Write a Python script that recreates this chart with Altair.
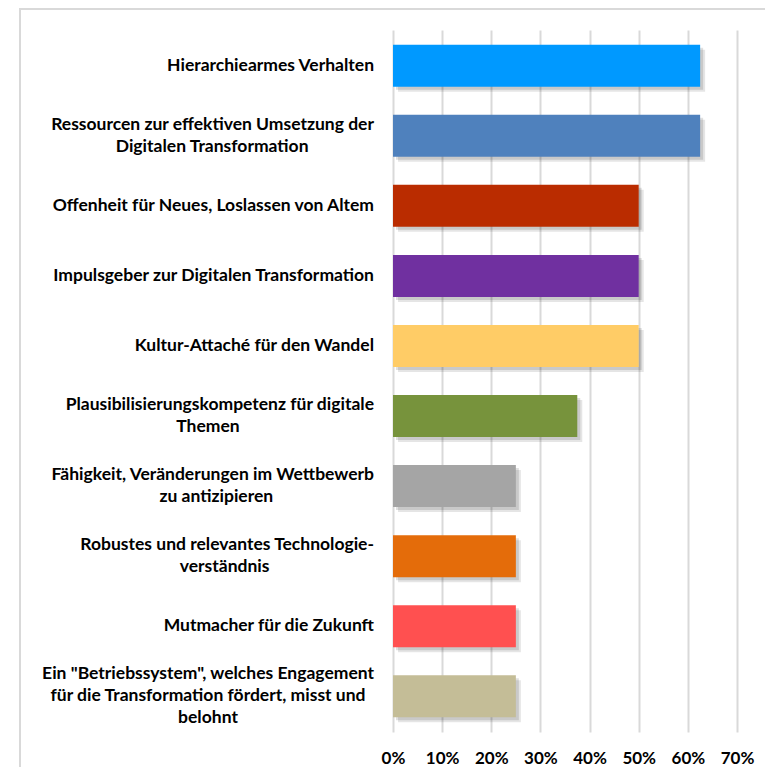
import altair as alt
import pandas as pd

categories = [
    "Hierarchiearmes Verhalten",
    "Ressourcen zur effektiven Umsetzung der Digitalen Transformation",
    "Offenheit für Neues, Loslassen von Altem",
    "Impulsgeber zur Digitalen Transformation",
    "Kultur-Attaché für den Wandel",
    "Plausibilisierungskompetenz für digitale Themen",
    "Fähigkeit, Veränderungen im Wettbewerb zu antizipieren",
    "Robustes und relevantes Technologieverständnis",
    "Mutmacher für die Zukunft",
    "Ein \"Betriebssystem\", welches Engagement für die Transformation fördert, misst und belohnt",
]
label_lines = [
    ["Hierarchiearmes Verhalten"],
    ["Ressourcen zur effektiven Umsetzung der", "Digitalen Transformation"],
    ["Offenheit für Neues, Loslassen von Altem"],
    ["Impulsgeber zur Digitalen Transformation"],
    ["Kultur-Attaché für den Wandel"],
    ["Plausibilisierungskompetenz für digitale", "Themen"],
    ["Fähigkeit, Veränderungen im Wettbewerb", "zu antizipieren"],
    ["Robustes und relevantes Technologie-", "verständnis"],
    ["Mutmacher für die Zukunft"],
    ["Ein \"Betriebssystem\", welches Engagement", "für die Transformation fördert, misst und", "belohnt"],
]
values = [0.625, 0.625, 0.5, 0.5, 0.5, 0.375, 0.25, 0.25, 0.25, 0.25]
colors = ["#0099FF", "#4F81BD", "#BA2C00", "#7030A0", "#FFCC66",
          "#77933C", "#A5A5A5", "#E46C0A", "#FF5050", "#C4BD97"]
tick_values = [0, 0.1, 0.2, 0.3, 0.4, 0.5, 0.6, 0.7]

FONT = "Lato"
FS = 17.5
LH = 22

bars_df = pd.DataFrame({"cat": categories, "val": values, "color": colors})
labels_df = pd.DataFrame({
    "cat": categories,
    "first": [l[0] for l in label_lines],
    "n": [len(l) for l in label_lines],
    "main": ["\n".join([l[0]] + [""] * (len(l) - 1)) for l in label_lines],
    "rest": ["\n".join([""] + l[1:]) if len(l) > 1 else "" for l in label_lines],
})

y_enc = alt.Y("cat:N", sort=categories, axis=None,
              scale=alt.Scale(paddingInner=0.4, paddingOuter=0.21))
x_enc = alt.X("val:Q", scale=alt.Scale(domain=[0, 0.7], nice=False),
              axis=alt.Axis(values=tick_values, format=".0%", title=None,
                            ticks=False, domain=False, grid=True,
                            gridColor="#d9d9d9", gridWidth=2,
                            labelFont=FONT, labelFontSize=17,
                            labelFontWeight="bold", labelColor="#000000",
                            labelPadding=18, labelFlush=False))

base = alt.Chart(bars_df)
shadow1 = base.mark_bar(color="#000000", opacity=0.10, xOffset=5, yOffset=5).encode(x=x_enc, y=y_enc)
shadow2 = base.mark_bar(color="#000000", opacity=0.12, xOffset=3, yOffset=3).encode(x=x_enc, y=y_enc)
bars = base.mark_bar().encode(x=x_enc, y=y_enc, color=alt.Color("color:N", scale=None))

text_layers = []
for n in sorted(set(len(l) for l in label_lines)):
    dy = -(n - 1) * LH / 2
    lab = alt.Chart(labels_df).transform_filter(f"datum.n == {n}")
    text_layers.append(
        lab.mark_text(align="right", baseline="middle", lineBreak="\n", dy=dy,
                      lineHeight=LH, font=FONT, fontSize=FS,
                      fontWeight="bold", color="#000000").encode(
            x=alt.value(-19), y=y_enc, text="main:N"))
    if n > 1:
        text_layers.append(
            lab.transform_calculate(
                cx="-19 - length(datum.first) * 8.3 / 2"
            ).mark_text(align="center", baseline="middle", lineBreak="\n", dy=dy,
                        lineHeight=LH, font=FONT, fontSize=FS,
                        fontWeight="bold", color="#000000").encode(
                x=alt.X("cx:Q", scale=None), y=y_enc, text="rest:N"))

frame_left = alt.Chart(bars_df).mark_rule(color="#d9d9d9", strokeWidth=2).encode(
    x=alt.value(-373), y=alt.value(-22), y2=alt.value(737))
frame_top = alt.Chart(bars_df).mark_rule(color="#d9d9d9", strokeWidth=2).encode(
    x=alt.value(-373), x2=alt.value(372), y=alt.value(-21))

chart = alt.layer(frame_left, frame_top, shadow1, shadow2, bars, *text_layers).properties(
    width=344, height=702,
    autosize=alt.AutoSizeParams(type="none"),
    padding={"left": 385, "top": 22, "right": 28, "bottom": 35},
).configure_view(stroke=None)

chart.save("out.html", embed_options={"renderer": "svg", "actions": False})
